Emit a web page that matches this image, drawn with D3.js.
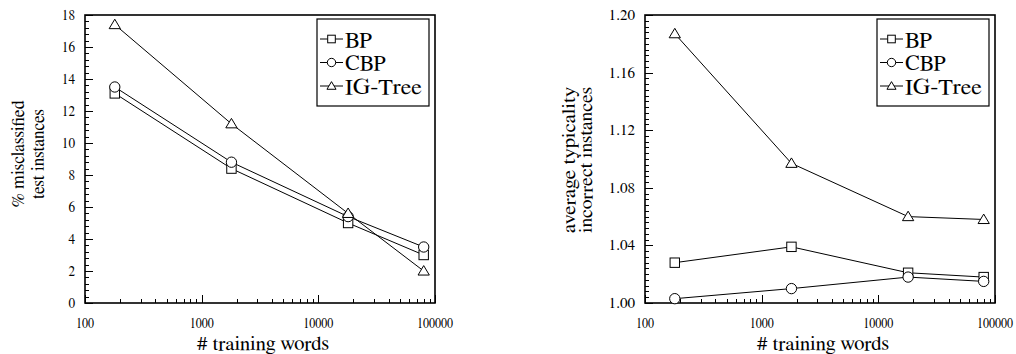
<!DOCTYPE html>
<html><head><meta charset="utf-8">
<script src="https://cdn.jsdelivr.net/npm/d3@7"></script>
<style>body{margin:0;background:#fff}svg{display:block}</style>
</head><body>
<svg id="c" width="1016" height="354"></svg>
<script>
const trainingWords = [180, 1800, 18000, 80000];
const seriesNames = ["BP", "CBP", "IG-Tree"];
const misBP = [13.1, 8.4, 5.0, 3.0];
const misCBP = [13.5, 8.8, 5.4, 3.5];
const misIG = [17.4, 11.2, 5.6, 2.0];
const typBP = [1.028, 1.039, 1.021, 1.018];
const typCBP = [1.003, 1.010, 1.018, 1.015];
const typIG = [1.187, 1.097, 1.060, 1.058];
const xTicks = [100, 1000, 10000, 100000];
const yTicks1 = [0, 2, 4, 6, 8, 10, 12, 14, 16, 18];
const yTicks2 = [1.00, 1.04, 1.08, 1.12, 1.16, 1.20];
const xTitle = "# training words";
const yTitle1 = ["% misclassified", "test instances"];
const yTitle2 = ["average typicality", "incorrect instances"];

const FONT = '"FreeSerif", "Liberation Serif", serif';
const svg = d3.select("#c");

function marker(g, type, x, y, s) {
  if (type === 0) {
    g.append("rect").attr("x", x - s).attr("y", y - s).attr("width", 2 * s).attr("height", 2 * s)
      .attr("fill", "#fff").attr("stroke", "#000").attr("stroke-width", 1);
  } else if (type === 1) {
    g.append("circle").attr("cx", x).attr("cy", y).attr("r", s * 1.1)
      .attr("fill", "#fff").attr("stroke", "#000").attr("stroke-width", 1);
  } else {
    const h = s * 1.15;
    g.append("path").attr("d", `M${x},${y - h}L${x + s * 1.2},${y + h * 0.75}L${x - s * 1.2},${y + h * 0.75}Z`)
      .attr("fill", "#fff").attr("stroke", "#000").attr("stroke-width", 1);
  }
}

function txt(g) {
  return g.append("text").style("font-family", FONT).attr("fill", "#000");
}

function panel(o) {
  const g = svg.append("g");
  const x = d3.scaleLog().domain([100, 100000]).range([o.left, o.right]);
  const y = d3.scaleLinear().domain(o.yDomain).range([o.bottom, o.top]);

  const minorY = d3.range(o.yDomain[0], o.yDomain[1] + 1e-9, o.yMinor);
  g.append("g").selectAll("line").data(minorY).join("line")
    .attr("x1", o.left).attr("x2", o.left + 4)
    .attr("y1", d => Math.round(y(d)) + 0.5).attr("y2", d => Math.round(y(d)) + 0.5)
    .attr("stroke", "#000").attr("stroke-width", 1);
  g.append("g").selectAll("line").data(o.yTicks).join("line")
    .attr("x1", o.left).attr("x2", o.left + 8)
    .attr("y1", d => Math.round(y(d)) + 0.5).attr("y2", d => Math.round(y(d)) + 0.5)
    .attr("stroke", "#000").attr("stroke-width", 1);
  g.append("g").selectAll("text").data(o.yTicks).join("text")
    .style("font-family", FONT)
    .attr("x", o.left - 10).attr("y", d => y(d) + 5)
    .attr("text-anchor", "end").attr("font-size", 14.5)
    .attr("textLength", d => o.yFmt(d).length * 6.6).attr("lengthAdjust", "spacingAndGlyphs")
    .text(o.yFmt);

  const minorX = [];
  for (let dec = 100; dec < 100000; dec *= 10) for (let k = 2; k <= 9; k++) minorX.push(dec * k);
  g.append("g").selectAll("line").data(minorX).join("line")
    .attr("x1", d => Math.round(x(d)) + 0.5).attr("x2", d => Math.round(x(d)) + 0.5)
    .attr("y1", o.bottom).attr("y2", o.bottom - 4)
    .attr("stroke", "#000").attr("stroke-width", 1);
  g.append("g").selectAll("line").data(xTicks).join("line")
    .attr("x1", d => Math.round(x(d)) + 0.5).attr("x2", d => Math.round(x(d)) + 0.5)
    .attr("y1", o.bottom).attr("y2", o.bottom - 8)
    .attr("stroke", "#000").attr("stroke-width", 1);
  g.append("g").selectAll("text").data(xTicks).join("text")
    .style("font-family", FONT)
    .attr("x", d => x(d)).attr("y", o.bottom + 25)
    .attr("text-anchor", "middle").attr("font-size", 14.5)
    .attr("textLength", d => String(d).length * 6.0).attr("lengthAdjust", "spacingAndGlyphs")
    .text(d => d);

  g.append("rect").attr("x", o.left).attr("y", o.top)
    .attr("width", o.right - o.left).attr("height", o.bottom - o.top)
    .attr("fill", "none").attr("stroke", "#000").attr("stroke-width", 1.6);

  txt(g).attr("x", (o.left + o.right) / 2 + 3).attr("y", 350)
    .attr("text-anchor", "middle").attr("font-size", 19)
    .attr("textLength", 132).attr("lengthAdjust", "spacingAndGlyphs").text(xTitle);
  o.yTitle.forEach((t, i) => {
    txt(g)
      .attr("transform", `translate(${o.yTitleX[i]},${o.yTitleY}) rotate(-90)`)
      .attr("text-anchor", "middle").attr("font-size", o.yTitleSize)
      .attr("textLength", o.yTitleLen[i]).attr("lengthAdjust", "spacingAndGlyphs").text(t);
  });

  const line = d3.line().x((d, i) => x(trainingWords[i])).y(d => y(d));
  o.series.forEach(s => {
    g.append("path").attr("d", line(s)).attr("fill", "none").attr("stroke", "#000").attr("stroke-width", 1);
  });
  o.series.forEach((s, si) => {
    s.forEach((v, i) => marker(g, si, x(trainingWords[i]), y(v), 4.7));
  });

  const lx = o.right - 118, ly = o.top + 4, lw = 112, lh = 87;
  g.append("rect").attr("x", lx).attr("y", ly).attr("width", lw).attr("height", lh)
    .attr("fill", "#fff").attr("stroke", "#000").attr("stroke-width", 1.2);
  seriesNames.forEach((n, i) => {
    const cy = ly + 20 + i * 23.5;
    g.append("line").attr("x1", lx + 3).attr("x2", lx + 26).attr("y1", cy).attr("y2", cy)
      .attr("stroke", "#000").attr("stroke-width", 1);
    marker(g, i, lx + 14.5, cy, 3.8);
    txt(g).attr("x", lx + 28).attr("y", cy + 7.5).attr("font-size", 21)
      .attr("textLength", [27.5, 41, 77][i]).attr("lengthAdjust", "spacingAndGlyphs").text(n);
  });
}

panel({
  left: 85, right: 435, top: 15, bottom: 303,
  yDomain: [0, 18], yTicks: yTicks1, yMinor: 0.4, yFmt: d => String(d),
  series: [misBP, misCBP, misIG],
  yTitle: yTitle1, yTitleX: [24, 44], yTitleY: 154, yTitleSize: 18, yTitleLen: [107, 90]
});
panel({
  left: 645, right: 995, top: 15, bottom: 303,
  yDomain: [1.0, 1.2], yTicks: yTicks2, yMinor: 0.004, yFmt: d => d.toFixed(2),
  series: [typBP, typCBP, typIG],
  yTitle: yTitle2, yTitleX: [575, 592], yTitleY: 160, yTitleSize: 18, yTitleLen: [146, 146]
});
</script>
</body></html>
